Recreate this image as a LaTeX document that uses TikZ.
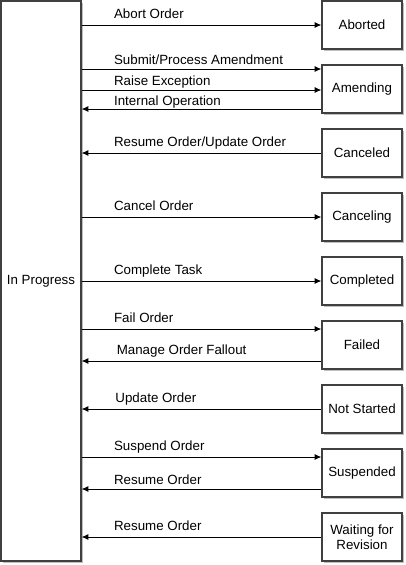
\documentclass[tikz,border=0pt]{standalone}
\usepackage{fontspec}
\setmainfont{Liberation Sans}
\usepackage{tikz}
\usetikzlibrary{arrows.meta,shadows}

\tikzset{
  state/.style={draw=black!75, line width=0.9pt, fill=white, minimum width=60pt,
    minimum height=36pt, inner sep=0pt, align=center,
    drop shadow={shadow xshift=1.5pt, shadow yshift=-1.5pt, fill=black!25, opacity=1}},
  flow/.style={line width=0.75pt, -{Latex[length=5pt,width=4.5pt]}},
  lbl/.style={anchor=base west, inner sep=0pt, xshift=24pt, yshift=4.75pt}
}

\begin{document}
\begin{tikzpicture}[x=0.75pt, y=-0.75pt, font=\fontsize{10pt}{11pt}\selectfont]
\useasboundingbox (0,0) rectangle (406,565);
\node[state, minimum height=420pt] (prog) at (41,281) {In Progress};
\node[state] (aborted) at (362,25) {Aborted};
\node[state] (amend) at (362,89) {Amending};
\node[state] (cancd) at (362,153) {Canceled};
\node[state] (cancg) at (362,217) {Canceling};
\node[state] (compl) at (362,281) {Completed};
\node[state] (failed) at (362,345) {Failed};
\node[state] (notst) at (362,409) {Not Started};
\node[state] (susp) at (362,473) {Suspended};
\node[state] (wait) at (362,537) {Waiting for\\Revision};

% points on the boxes with more than one arrow
\coordinate (am1) at ([yshift=15pt]amend.west);
\coordinate (am2) at ([yshift=-0.75pt]amend.west);
\coordinate (am3) at ([yshift=-15pt]amend.west);
\coordinate (fa1) at ([yshift=12pt]failed.west);
\coordinate (fa2) at ([yshift=-12pt]failed.west);
\coordinate (su1) at ([yshift=12pt]susp.west);
\coordinate (su2) at ([yshift=-12pt]susp.west);

\draw[flow] (prog.east |- aborted.west) -- node[lbl, at start] {Abort Order} (aborted.west);
\draw[flow] (prog.east |- am1) -- node[lbl, at start, yshift=-1pt] {Submit/Process Amendment} (am1);
\draw[flow] (prog.east |- am2) -- node[lbl, at start, yshift=-1pt] {Raise Exception} (am2);
\draw[flow] (am3) -- node[lbl, at end, yshift=-2pt] {Internal Operation} (prog.east |- am3);
\draw[flow] (cancd.west) -- node[lbl, at end] {Resume Order/Update Order} (prog.east |- cancd.west);
\draw[flow] (prog.east |- cancg.west) -- node[lbl, at start] {Cancel Order} (cancg.west);
\draw[flow] (prog.east |- compl.west) -- node[lbl, at start] {Complete Task} (compl.west);
\draw[flow] (prog.east |- fa1) -- node[lbl, at start] {Fail Order} (fa1);
\draw[flow] (fa2) -- node[lbl, at end, xshift=2pt] {Manage Order Fallout} (prog.east |- fa2);
\draw[flow] (notst.west) -- node[lbl, at end, xshift=1pt] {Update Order} (prog.east |- notst.west);
\draw[flow] (prog.east |- su1) -- node[lbl, at start] {Suspend Order} (su1);
\draw[flow] (su2) -- node[lbl, at end, yshift=-1pt] {Resume Order} (prog.east |- su2);
\draw[flow] (wait.west) -- node[lbl, at end] {Resume Order} (prog.east |- wait.west);
\end{tikzpicture}
\end{document}
